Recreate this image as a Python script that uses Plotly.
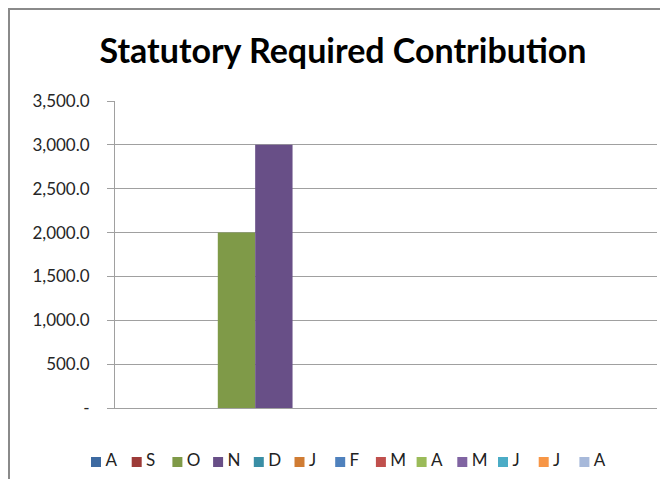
import plotly.graph_objects as go

# ---- data ----
SERIES = ["A", "S", "O", "N", "D", "J", "F", "M", "A", "M", "J", "J", "A"]
VALUES = [None, None, 2000, 3000, None, None, None, None, None, None, None, None, None]
COLORS = ["#3D6AA1", "#9D3B38", "#7F9A48", "#684F87", "#3A8EA5", "#D07C33",
          "#4F81BD", "#C0504D", "#9BBB59", "#8064A2", "#4BACC6", "#F79646", "#A7B9DA"]
CATEGORY = ["Contribution"]
Y_TICKS = [0, 500, 1000, 1500, 2000, 2500, 3000, 3500]
Y_TICK_TEXT = ["-", "500.0", "1,000.0", "1,500.0", "2,000.0", "2,500.0", "3,000.0", "3,500.0"]
TITLE = "Statutory Required Contribution"

# page body has an 8px margin; the figure fills the rest of the window
OFF = 8
W, H = 668 - OFF, 479 - OFF
FONT = "Lato"
GRID = "#a0a0a0"


def px(x):  # window x pixel -> figure fraction
    return (x - OFF) / W


def py(y):  # window y pixel -> figure fraction (from bottom)
    return 1 - (y - OFF) / H


fig = go.Figure()

for name, val, col in zip(SERIES, VALUES, COLORS):
    fig.add_trace(go.Bar(
        x=CATEGORY, y=[val], name=name, marker=dict(color=col, line=dict(width=0)),
        showlegend=False, xaxis="x", yaxis="y",
    ))

# Excel-style legend row (small squares), one entry per series
fig.add_trace(go.Scatter(
    x=list(range(len(SERIES))), y=[462 - OFF] * len(SERIES),
    mode="markers+text", text=["\u2009" + s for s in SERIES], textposition="middle right",
    textfont=dict(family=FONT, size=17, color="#222222"),
    marker=dict(symbol="square", size=10, color=COLORS, line=dict(width=0)),
    xaxis="x2", yaxis="y2", showlegend=False, hoverinfo="skip", cliponaxis=False,
))

step = 40.7
r0 = -(96 - OFF) / step
fig.update_layout(
    width=W, height=H,
    margin=dict(l=0, r=0, t=0, b=0, autoexpand=False),
    paper_bgcolor="white", plot_bgcolor="rgba(0,0,0,0)",
    barmode="group", bargap=1.5 / 14.5, bargroupgap=0,
    showlegend=False,
    title=dict(text=TITLE, x=px(343), xref="paper", xanchor="center",
               y=py(51), yref="paper", yanchor="middle",
               font=dict(family=FONT, size=34, color="#000000", weight=700)),
    xaxis=dict(domain=[px(115), px(657)], showticklabels=False, ticks="",
               showline=True, linecolor=GRID, linewidth=1, showgrid=False,
               zeroline=False, fixedrange=True),
    yaxis=dict(domain=[py(408), py(101)], range=[0, 3500],
               tickvals=Y_TICKS, ticktext=Y_TICK_TEXT,
               ticks="outside", ticklen=7, tickcolor=GRID, ticklabelstandoff=14,
               showline=True, linecolor=GRID, linewidth=1,
               showgrid=True, gridcolor=GRID, gridwidth=1, zeroline=False,
               tickfont=dict(family=FONT, size=17, color="#262626")),
    xaxis2=dict(domain=[0, 1], range=[r0, r0 + W / step], visible=False, anchor="y2"),
    yaxis2=dict(domain=[0, 1], range=[H, 0], visible=False, anchor="x2"),
    shapes=[dict(type="rect", xref="paper", yref="paper",
                 x0=px(9), y0=-0.2, x1=1.2, y1=py(9),
                 line=dict(color="#8a8a8a", width=2), fillcolor="rgba(0,0,0,0)",
                 layer="below")],
)

fig.write_html("out.html")
